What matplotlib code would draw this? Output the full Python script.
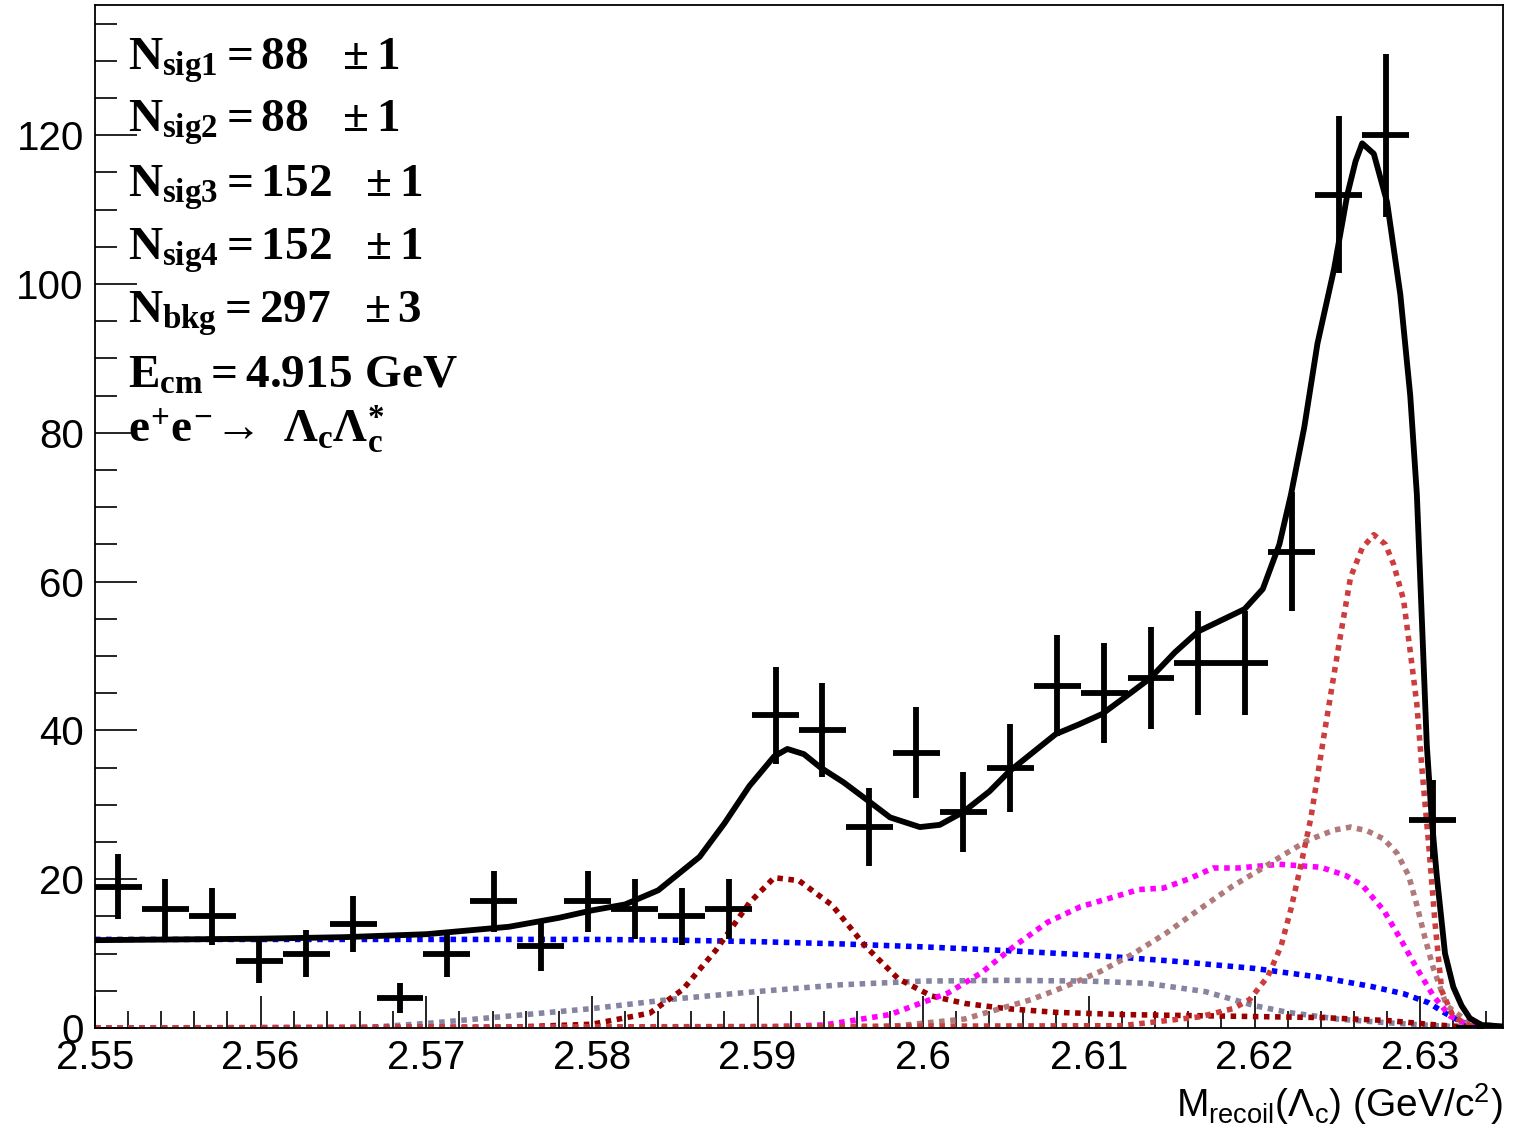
import numpy as np
import matplotlib
matplotlib.use('Agg')
import matplotlib.pyplot as plt
from matplotlib.ticker import MultipleLocator, FuncFormatter

plt.rcParams['font.family'] = ['Liberation Sans', 'DejaVu Sans']
plt.rcParams['mathtext.fontset'] = 'custom'
plt.rcParams['mathtext.rm'] = 'Liberation Serif:bold'
plt.rcParams['mathtext.it'] = 'Liberation Serif:bold'
plt.rcParams['mathtext.bf'] = 'Liberation Serif:bold'

# histogram: 30 bins from 2.55 to 2.635
x_lo, x_hi, n_bins = 2.55, 2.635, 30
counts = [19, 16, 15, 9, 10, 14, 4, 10, 17, 11, 17, 16, 15, 16, 42,
          40, 27, 37, 29, 35, 46, 45, 47, 49, 49, 64, 112, 120, 28, 0]

# total fit (black)
tot_x = [2.55, 2.56, 2.565, 2.57, 2.575, 2.578, 2.58, 2.582, 2.584, 2.5865,
         2.588, 2.5895, 2.591, 2.5918, 2.5928, 2.5938, 2.5952, 2.5967, 2.598,
         2.5998, 2.601, 2.6024, 2.604, 2.6052, 2.6066, 2.608, 2.6094, 2.6108,
         2.6122, 2.6137, 2.6152, 2.6166, 2.618, 2.6194, 2.6205, 2.6215, 2.6222,
         2.623, 2.6238, 2.6248, 2.6256, 2.6261, 2.6265, 2.6272, 2.628, 2.6288,
         2.6294, 2.6298, 2.6301, 2.6304, 2.6307, 2.631, 2.6315, 2.632, 2.6325,
         2.633, 2.6337, 2.635]
tot_y = [11.8, 12.0, 12.2, 12.6, 13.6, 14.8, 15.8, 16.6, 18.5, 23.0,
         27.5, 32.5, 36.5, 37.5, 36.8, 35.0, 33.0, 30.5, 28.3,
         27.0, 27.3, 29.0, 31.8, 34.5, 37.0, 39.5, 40.8, 42.2,
         44.5, 47.0, 50.5, 53.3, 54.8, 56.3, 59.0, 65.0, 71.7,
         80.7, 92.0, 102.0, 112.0, 116.5, 118.9, 117.5, 111.0, 98.6,
         85.0, 71.7, 55.0, 38.0, 28.0, 20.5, 10.0, 5.5, 3.0,
         1.3, 0.4, 0.2]

# background (blue)
bkg_x = [2.55, 2.56, 2.57, 2.58, 2.585, 2.59, 2.595, 2.60, 2.605, 2.61, 2.615,
         2.62, 2.624, 2.627, 2.629, 2.6305, 2.6315, 2.6325, 2.6335, 2.635]
bkg_y = [11.9, 11.9, 11.9, 11.9, 11.8, 11.6, 11.3, 10.9, 10.4, 9.8, 9.0,
         8.0, 6.8, 5.6, 4.6, 3.4, 2.0, 0.8, 0.2, 0.1]

# signal 1 (dark red)
sig1_x = [2.55, 2.575, 2.58, 2.5835, 2.5855, 2.5875, 2.5895, 2.591, 2.5925,
          2.5945, 2.5965, 2.5985, 2.6005, 2.6025, 2.605, 2.608, 2.612, 2.618,
          2.624, 2.628, 2.631, 2.633, 2.635]
sig1_y = [0, 0.1, 0.5, 2.0, 5.2, 10.5, 16.8, 20.2, 19.8,
          16.5, 11.0, 6.6, 4.3, 3.3, 2.6, 2.1, 1.8, 1.6,
          1.4, 1.0, 0.4, 0.1, 0]

# signal 2 (slate)
sig2_x = [2.55, 2.566, 2.57, 2.575, 2.58, 2.585, 2.59, 2.595, 2.60, 2.605,
          2.61, 2.6135, 2.617, 2.62, 2.622, 2.625, 2.628, 2.631, 2.633, 2.635]
sig2_y = [0, 0, 0.6, 1.6, 2.6, 3.9, 4.9, 5.8, 6.3, 6.4,
          6.3, 6.0, 4.9, 3.0, 2.1, 1.2, 0.7, 0.3, 0.1, 0]

# signal 3 (magenta)
sig3_x = [2.55, 2.59, 2.594, 2.598, 2.6015, 2.6035, 2.6055, 2.6075, 2.6095,
          2.6115, 2.613, 2.6145, 2.616, 2.6175, 2.619, 2.6215, 2.624, 2.6255,
          2.6265, 2.6278, 2.6288, 2.6298, 2.6308, 2.6318, 2.633, 2.635]
sig3_y = [0, 0.1, 0.4, 1.8, 4.7, 7.4, 11.0, 14.2, 16.3,
          17.6, 18.6, 18.8, 20.0, 21.5, 21.5, 22.0, 21.6, 20.5,
          19.2, 15.8, 12.0, 8.0, 4.3, 1.6, 0.3, 0.1]

# signal 4 (rosy brown)
sig4_x = [2.55, 2.596, 2.5985, 2.6025, 2.6065, 2.6085, 2.6107, 2.6127, 2.6147,
          2.6167, 2.6187, 2.6205, 2.6217, 2.6232, 2.6248, 2.6258, 2.6268,
          2.6278, 2.6286, 2.6293, 2.6298, 2.6303, 2.6308, 2.6316, 2.6329, 2.635]
sig4_y = [0, 0, 0.3, 1.2, 3.8, 5.5, 7.6, 10.0, 12.8,
          16.0, 19.1, 21.5, 23.2, 25.2, 26.6, 27.0, 26.5,
          25.4, 23.5, 20.5, 16.5, 12.0, 8.0, 3.0, 0.8, 0.1]

# signal 5 (indian red, main peak)
sig5_x = [2.55, 2.612, 2.6167, 2.6187, 2.6197, 2.6208, 2.6216, 2.6222, 2.6228,
          2.6234, 2.6242, 2.6247, 2.6252, 2.6258, 2.6265, 2.6272, 2.6279,
          2.6284, 2.629, 2.6294, 2.6298, 2.6301, 2.6305, 2.6309, 2.6313,
          2.632, 2.633, 2.635]
sig5_y = [0, 0.3, 1.5, 2.6, 3.8, 6.9, 11.0, 16.0, 21.9,
          28.2, 39.4, 46.2, 52.9, 60.6, 64.5, 66.3, 65.0,
          62.3, 57.5, 50.6, 43.5, 35.0, 25.0, 14.0, 5.0,
          1.5, 0.3, 0]

info_lines = [r'$N_{sig1} = 88\ \ \pm 1$',
              r'$N_{sig2} = 88\ \ \pm 1$',
              r'$N_{sig3} = 152\ \ \pm 1$',
              r'$N_{sig4} = 152\ \ \pm 1$',
              r'$N_{bkg} = 297\ \ \pm 3$',
              r'$E_{cm} = 4.915\ GeV$',
              r'$e^{+}e^{-}\!\rightarrow\ \Lambda_{c}\Lambda_{c}^{*}$']

fig = plt.figure(figsize=(15.29, 11.29), dpi=100)
ax = fig.add_axes([0.0621, 0.0895, 0.9209, 0.9061])

dot = (0, (1, 1))
lw_dot = 4.0
ax.plot(bkg_x, bkg_y, color='#0000ff', lw=lw_dot, ls=dot)
ax.plot(sig2_x, sig2_y, color='#8585a2', lw=lw_dot, ls=dot)
ax.plot(sig1_x, sig1_y, color='#990000', lw=lw_dot, ls=dot)
ax.plot(sig3_x, sig3_y, color='#ff00ff', lw=lw_dot, ls=dot)
ax.plot(sig4_x, sig4_y, color='#b07a7a', lw=lw_dot, ls=dot)
ax.plot(sig5_x, sig5_y, color='#cc3d3d', lw=lw_dot, ls=dot)
ax.plot(tot_x, tot_y, color='black', lw=4.2, solid_joinstyle='round')

edges = np.linspace(x_lo, x_hi, n_bins + 1)
centers = 0.5 * (edges[:-1] + edges[1:])
half_w = 0.5 * (edges[1] - edges[0])
counts = np.array(counts, dtype=float)
ax.errorbar(centers, counts, xerr=half_w, yerr=np.sqrt(counts), fmt='o',
            color='black', ms=4, elinewidth=4.2, capsize=0, zorder=5)

ax.set_xlim(x_lo, x_hi)
ax.set_ylim(0, 137.5)
ax.xaxis.set_major_locator(MultipleLocator(0.01))
ax.xaxis.set_minor_locator(MultipleLocator(0.002))
ax.yaxis.set_major_locator(MultipleLocator(20))
ax.yaxis.set_minor_locator(MultipleLocator(5))
ax.xaxis.set_major_formatter(FuncFormatter(lambda v, p: '%g' % round(v, 3)))
ax.tick_params(axis='both', which='both', direction='in', top=False, right=False,
               width=1.2, labelsize=29)
ax.tick_params(axis='y', which='major', length=30, pad=8)
ax.tick_params(axis='y', which='minor', length=15.5)
ax.tick_params(axis='x', which='major', length=23, pad=8)
ax.tick_params(axis='x', which='minor', length=12)
for s in ax.spines.values():
    s.set_linewidth(1.3)

ax.text(1.0, -0.052, r'M$_\mathdefault{recoil}$(Λ$_\mathdefault{c}$) (GeV/c$^\mathdefault{2}$)',
        transform=ax.transAxes, ha='right', va='top', fontsize=28,
        math_fontfamily='dejavusans')

baselines = [70, 132, 197, 260, 323, 388, 442]
for line, py in zip(info_lines, baselines):
    ax.text(0.0235, (1028 - py) / 1023.0, line, transform=ax.transAxes,
            ha='left', va='baseline', fontsize=34, color='black')

plt.savefig('out.png', dpi=100)
